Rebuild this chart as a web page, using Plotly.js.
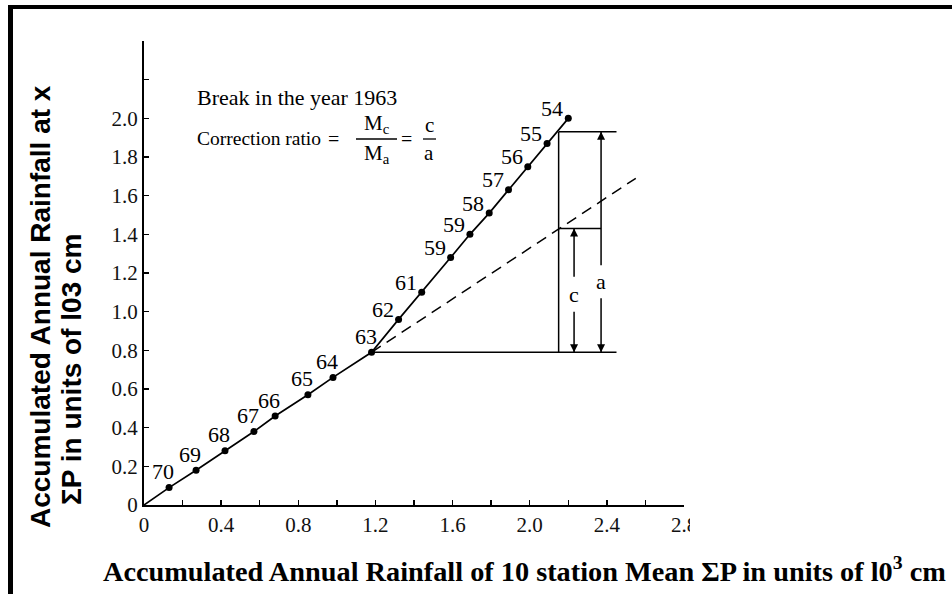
<!DOCTYPE html>
<html>
<head>
<meta charset="utf-8">
<script src="https://cdn.plot.ly/plotly-3.0.1.min.js"></script>
<style>
  html, body { margin: 0; padding: 0; background: #fff; overflow: hidden; }
  #wrap { position: relative; width: 952px; height: 594px; }
  #chart { position: absolute; left: 0; top: 0; width: 952px; height: 594px; }
  #frame { position: absolute; left: 8px; top: 5px; right: -10px; bottom: -10px;
           border-top: 4px solid #000; border-left: 5px solid #000; pointer-events: none; }
</style>
</head>
<body>
<div id="wrap"><div id="chart"></div><div id="frame"></div></div>
<script>
// Double-mass curve: accumulated rainfall at station X against the 10-station mean
const yearLabels = ['70', '69', '68', '67', '66', '65', '64', '63', '62', '61', '59', '59', '58', '57', '56', '55', '54'];
const meanCum    = [0.13, 0.27, 0.42, 0.57, 0.68, 0.85, 0.98, 1.18, 1.32, 1.44, 1.59, 1.69, 1.79, 1.89, 1.99, 2.09, 2.20];
const stationCum = [0.09, 0.18, 0.28, 0.38, 0.46, 0.57, 0.66, 0.79, 0.96, 1.10, 1.28, 1.40, 1.51, 1.63, 1.75, 1.87, 2.00];
const breakYear = '63';

// pre-break trend carried forward beyond 1963
const extensionX = [1.18, 2.55];
const extensionY = [0.79, 1.69];

// correction-ratio construction
const bracketX   = 2.15;   // vertical measuring line
const bracketEnd = 2.45;   // right end of the horizontal guides
const topY  = 1.93;        // observed curve at bracketX
const midY  = 1.43;        // extended trend at bracketX
const baseY = 0.79;        // level of the 1963 break
const arrowAX = 2.37;      // "a" dimension
const arrowCX = 2.23;      // "c" dimension
const gapA = [1.07, 1.24]; // break in the "a" arrow around its letter
const gapC = [1.00, 1.18]; // break in the "c" arrow around its letter

// axis ticks: labelled majors, unlabelled minors
const xTickVals  = [0, 0.4, 0.8, 1.2, 1.6, 2.0, 2.4, 2.8];
const xTickText  = ['0', '0.4', '0.8', '1.2', '1.6', '2.0', '2.4', '2.8'];
const xMinorVals = [0.2, 0.6, 1.0, 1.4, 1.8, 2.2, 2.6];
const yTickVals  = [0, 0.2, 0.4, 0.6, 0.8, 1.0, 1.2, 1.4, 1.6, 1.8, 2.0];
const yTickText  = ['0', '0.2', '0.4', '0.6', '0.8', '1.0', '1.2', '1.4', '1.6', '1.8', '2.0'];
const yMinorVals = [2.2, 2.4];

// plot-area geometry in pixels (used to place free text in paper units)
const M = { l: 144, r: 268, t: 41, b: 89 };
const W = 952, H = 594;
const PW = W - M.l - M.r, PH = H - M.t - M.b;
const PX = px => (px - M.l) / PW;
const PY = py => (H - M.b - py) / PH;

const serif = 'Liberation Serif, Times New Roman, serif';
const sans  = 'Liberation Sans, Arial, sans-serif';
const ink = '#000';

const traces = [
  { // cumulative curve from the origin
    x: [0].concat(meanCum), y: [0].concat(stationCum),
    mode: 'lines', line: { color: ink, width: 1.7 }, hoverinfo: 'skip'
  },
  { // projected pre-break trend
    x: extensionX, y: extensionY,
    mode: 'lines', line: { color: ink, width: 1.5, dash: '11px,7px' }, hoverinfo: 'skip'
  },
  { // guides and dimension shafts of the construction
    x: [extensionX[0], bracketEnd, null, bracketX, bracketEnd, null, bracketX, arrowAX, null,
        bracketX, bracketX, null,
        arrowAX, arrowAX, null, arrowAX, arrowAX, null,
        arrowCX, arrowCX, null, arrowCX, arrowCX],
    y: [baseY, baseY, null, topY, topY, null, midY, midY, null,
        topY, baseY, null,
        topY, gapA[1], null, gapA[0], baseY, null,
        midY, gapC[1], null, gapC[0], baseY],
    mode: 'lines', line: { color: ink, width: 1.5 }, hoverinfo: 'skip', connectgaps: false
  },
  { // arrowheads pointing up
    x: [arrowAX, arrowCX], y: [topY, midY],
    mode: 'markers', marker: { symbol: 'arrow-up', size: 8, color: ink }, hoverinfo: 'skip'
  },
  { // arrowheads pointing down
    x: [arrowAX, arrowCX], y: [baseY, baseY],
    mode: 'markers', marker: { symbol: 'arrow-down', size: 8, color: ink }, hoverinfo: 'skip'
  },
  { // yearly points
    x: meanCum, y: stationCum,
    mode: 'markers', marker: { color: ink, size: 7 }, hoverinfo: 'skip'
  }
];

const breakIdx = yearLabels.indexOf(breakYear);
const annotations = yearLabels.map((t, i) => ({
  x: meanCum[i], y: stationCum[i], xref: 'x', yref: 'y',
  text: t, showarrow: false, xanchor: 'center', yanchor: 'middle',
  xshift: i <= breakIdx ? -6 : -16,
  yshift: i <= breakIdx ? 16 : 10,
  font: { family: serif, size: 22, color: ink }
}));

annotations.push(
  { x: arrowAX, y: (gapA[0] + gapA[1]) / 2, xref: 'x', yref: 'y', text: 'a', showarrow: false,
    xanchor: 'center', yanchor: 'middle', font: { family: serif, size: 22, color: ink } },
  { x: arrowCX, y: (gapC[0] + gapC[1]) / 2, xref: 'x', yref: 'y', text: 'c', showarrow: false,
    xanchor: 'center', yanchor: 'middle', font: { family: serif, size: 22, color: ink } }
);

// legend text and correction-ratio formula
function note(px, py, text, size, anchor) {
  return { x: PX(px), y: PY(py), xref: 'paper', yref: 'paper', text: text, showarrow: false,
           xanchor: anchor || 'center', yanchor: 'middle',
           font: { family: serif, size: size, color: ink } };
}
annotations.push(
  note(195, 97, 'Break in the year 1963', 22, 'left'),
  note(195, 139, 'Correction ratio', 19.5, 'left'),
  note(333, 139, '=', 20),
  note(377, 124, 'M<sub>c</sub>', 21),
  note(377, 154, 'M<sub>a</sub>', 21),
  note(406, 139, '=', 20),
  note(429, 125, 'c', 21),
  note(429, 153, 'a', 21)
);

// axis titles
annotations.push(
  { x: PX(40), y: PY(307), xref: 'paper', yref: 'paper', textangle: -90, showarrow: false,
    xanchor: 'center', yanchor: 'middle',
    text: '<b>Accumulated Annual Rainfall at x</b>', font: { family: sans, size: 28, color: ink } },
  { x: PX(71), y: PY(370), xref: 'paper', yref: 'paper', textangle: -90, showarrow: false,
    xanchor: 'center', yanchor: 'middle',
    text: '<b>ΣP in units of l03 cm</b>', font: { family: sans, size: 28, color: ink } },
  { x: PX(524), y: PY(569), xref: 'paper', yref: 'paper', showarrow: false,
    xanchor: 'center', yanchor: 'middle',
    text: '<b>Accumulated Annual Rainfall of 10 station Mean ΣP in units of l0<sup>3</sup> cm</b>',
    font: { family: serif, size: 28.3, color: ink } }
);

const shapes = [
  // fraction bars
  { type: 'line', xref: 'paper', yref: 'paper', x0: PX(356), x1: PX(397), y0: PY(139), y1: PY(139),
    line: { color: ink, width: 1.3 } },
  { type: 'line', xref: 'paper', yref: 'paper', x0: PX(423), x1: PX(436), y0: PY(139), y1: PY(139),
    line: { color: ink, width: 1.3 } },
  // trimmed edge of the last x tick label
  { type: 'rect', layer: 'above', xref: 'paper', yref: 'paper',
    x0: PX(690), x1: PX(705), y0: PY(535), y1: PY(508),
    fillcolor: '#fff', line: { width: 0 } }
];

const axisCommon = {
  showgrid: false, zeroline: false, showline: true, linecolor: ink, linewidth: 2,
  ticks: 'inside', ticklen: 5, tickwidth: 1.5, tickcolor: ink, tickmode: 'array',
  tickfont: { family: serif, size: 21, color: '#111' }, fixedrange: true
};
const minorCommon = { ticks: 'inside', ticklen: 5, tickwidth: 1.5, tickcolor: ink, tickmode: 'array', showgrid: false };

const layout = {
  width: W, height: H, margin: M,
  paper_bgcolor: '#fff', plot_bgcolor: '#fff', showlegend: false,
  xaxis: Object.assign({}, axisCommon, { range: [0, 2.8], tickvals: xTickVals, ticktext: xTickText,
    minor: Object.assign({}, minorCommon, { tickvals: xMinorVals }) }),
  yaxis: Object.assign({}, axisCommon, { range: [0, 2.4], tickvals: yTickVals, ticktext: yTickText,
    minor: Object.assign({}, minorCommon, { tickvals: yMinorVals }) }),
  annotations: annotations,
  shapes: shapes
};

Plotly.newPlot('chart', traces, layout, { displayModeBar: false, staticPlot: true });
</script>
</body>
</html>
